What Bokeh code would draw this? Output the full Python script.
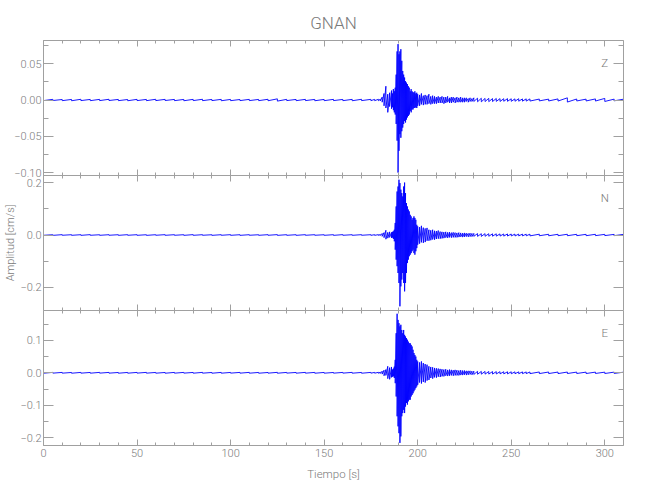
import math
from bokeh.plotting import figure
from bokeh.models import Range1d, LinearAxis, FixedTicker, Label
from bokeh.layouts import column
from bokeh.embed import file_html
from bokeh.resources import INLINE

# ---------------- data ----------------
# sample times [s]
time_s = [0, 5, 10, 15, 20, 25, 30, 35, 40, 45, 50, 55, 60, 65, 70, 75, 80, 85,
          90, 95, 100, 105, 110, 115, 120, 125, 130, 135, 140, 145, 150, 155, 160,
          165, 170, 175,
          177, 179,
          180, 181, 182, 183, 184, 185, 186,
          186.5, 187, 187.5, 188, 188.5, 189, 189.5, 190, 190.5, 191, 191.5, 192,
          192.5, 193, 193.5, 194, 194.5, 195, 195.5, 196, 196.5, 197, 197.5, 198,
          198.5, 199, 199.5, 200,
          201, 202, 203, 204, 205, 206, 207, 208, 209, 210, 211, 212, 213, 214, 215,
          216, 217, 218, 219, 220, 221, 222, 223, 224, 225, 226, 227, 228, 229, 230,
          232, 234, 236, 238, 240, 242, 244, 246, 248, 250, 252, 254, 256, 258, 260,
          265, 270, 275, 280, 285, 290, 295, 300, 305, 310]

# upper / lower envelope of each trace, in units of 0.001 cm/s
z_hi = [0.8, 0.9, 0.7, 0.8, 1.0, 0.8, 0.9, 1.0, 0.8, 0.7, 0.9, 0.8, 1.0, 0.9, 0.8, 0.8, 0.9, 1.0,
        0.8, 0.9, 0.8, 0.7, 0.9, 0.8, 1.0, 1.6, 0.9, 0.8, 0.9, 0.8, 0.8, 0.9, 0.8, 0.9, 1.0, 0.9,
        0.9, 1.0,
        1.2, 4, 9, 19, 8, 10, 13,
        9, 15, 12, 17, 35, 67, 77, 63, 67, 70, 54, 40, 35, 31, 26, 24, 22, 19, 17, 12, 15, 12,
        11, 10, 12, 9, 10, 8,
        7, 9, 6, 7, 6, 8, 5, 6, 5, 4, 5, 4, 5, 4, 4, 5, 3, 4, 4, 3, 4, 3, 4, 3, 3, 3, 2, 3, 2, 3,
        2.5, 2.4, 2.2, 2.3, 2.0, 2.1, 1.9, 1.8, 1.9, 1.7, 1.6, 1.8, 1.5, 1.6, 1.5,
        1.3, 1.2, 1.5, 3.0, 1.4, 1.2, 1.5, 2.2, 1.2, 1.1]
z_lo = [-0.8, -0.7, -0.9, -1.0, -0.8, -0.9, -0.8, -0.7, -0.9, -1.0, -0.8, -0.9, -0.8, -0.7, -0.9,
        -1.0, -0.8, -0.9, -0.8, -1.0, -0.9, -0.8, -0.8, -0.9, -1.0, -1.5, -0.8, -0.9, -0.8, -1.0,
        -0.9, -0.8, -0.9, -1.0, -0.8, -0.9,
        -0.9, -1.0,
        -1.2, -3, -8, -11, -17, -9, -12,
        -10, -14, -17, -20, -33, -56, -100, -70, -47, -52, -43, -38, -33, -29, -31, -27, -24,
        -22, -20, -15, -17, -13, -13, -11, -11, -10, -11, -8,
        -8, -6, -7, -6, -6, -5, -6, -5, -5, -5, -4, -4, -4, -5, -4, -3, -4, -4, -3, -4, -3, -3,
        -3, -3, -3, -2, -3, -2, -2, -2,
        -2.4, -2.5, -2.1, -2.2, -2.1, -1.9, -2.0, -1.7, -1.8, -1.8, -1.7, -1.6, -1.6, -1.5, -1.4,
        -1.2, -1.3, -1.4, -2.8, -1.3, -1.3, -1.4, -2.0, -1.1, -1.2]

n_hi = [1.2, 1.0, 1.3, 1.1, 1.2, 1.4, 1.0, 1.2, 1.1, 1.3, 1.2, 1.0, 1.1, 1.3, 1.2, 1.1, 1.4, 1.2,
        1.0, 1.2, 1.3, 1.1, 1.2, 1.0, 1.3, 1.5, 1.2, 1.1, 1.3, 1.2, 1.0, 1.2, 1.4, 1.1, 1.3, 1.2,
        1.3, 1.5,
        2, 6, 9, 18, 10, 12, 10,
        12, 14, 20, 46, 109, 166, 185, 211, 198, 173, 160, 147, 185, 200, 160, 122, 109, 97,
        90, 77, 71, 58, 65, 71, 65, 58, 39, 33,
        30, 35, 28, 25, 27, 20, 18, 20, 16, 15, 17, 13, 12, 11, 12, 10, 11, 9, 10, 9, 8, 9, 8,
        7, 8, 7, 6, 7, 6, 6,
        5.5, 5.0, 5.2, 4.8, 4.5, 4.6, 4.2, 4.0, 4.1, 3.8, 3.6, 3.7, 3.4, 3.3, 3.2,
        3.0, 2.8, 2.7, 2.8, 2.6, 2.5, 2.6, 2.4, 2.3, 2.3]
n_lo = [-1.1, -1.3, -1.0, -1.2, -1.3, -1.1, -1.2, -1.0, -1.3, -1.1, -1.2, -1.4, -1.0, -1.2, -1.1,
        -1.3, -1.2, -1.0, -1.3, -1.1, -1.2, -1.3, -1.0, -1.2, -1.1, -1.4, -1.2, -1.3, -1.1, -1.0,
        -1.2, -1.3, -1.1, -1.2, -1.0, -1.3,
        -1.3, -1.4,
        -2, -5, -10, -16, -12, -9, -11,
        -10, -15, -24, -56, -94, -119, -145, -183, -272, -196, -170, -145, -183, -215, -183,
        -145, -107, -94, -81, -75, -69, -62, -56, -69, -75, -62, -50, -37,
        -33, -28, -30, -27, -22, -22, -20, -17, -18, -15, -14, -14, -13, -12, -10, -11, -9, -10,
        -9, -9, -9, -8, -7, -8, -7, -6, -7, -6, -6, -5,
        -5.2, -5.4, -4.9, -4.7, -4.6, -4.3, -4.1, -4.2, -3.9, -3.7, -3.8, -3.5, -3.4, -3.2, -3.3,
        -2.9, -2.9, -2.6, -2.7, -2.5, -2.6, -2.4, -2.3, -2.4, -2.2]

e_hi = [1.1, 1.3, 1.2, 1.0, 1.2, 1.1, 1.3, 1.2, 1.0, 1.1, 1.2, 1.3, 1.1, 1.0, 1.2, 1.2, 1.1, 1.3,
        1.0, 1.2, 1.1, 1.2, 1.3, 1.1, 1.0, 1.4, 1.2, 1.1, 1.3, 1.2, 1.1, 1.0, 1.2, 1.3, 1.1, 1.2,
        1.3, 1.5,
        2, 5, 8, 10, 20, 16, 18,
        10, 13, 19, 40, 122, 182, 163, 153, 143, 148, 132, 122, 132, 117, 112, 107, 102, 96,
        91, 91, 86, 81, 71, 61, 55, 50, 40, 35,
        32, 35, 30, 27, 25, 20, 18, 17, 15, 14, 13, 12, 11, 10, 11, 9, 10, 9, 8, 9, 8, 7, 8, 7,
        7, 6, 6, 6, 5, 5,
        4.5, 4.3, 4.2, 4.0, 3.8, 3.7, 3.5, 3.4, 3.2, 3.1, 3.0, 2.9, 2.8, 2.7, 2.6,
        2.5, 2.4, 2.3, 2.3, 2.2, 2.1, 2.1, 2.0, 2.0, 1.9]
e_lo = [-1.2, -1.0, -1.1, -1.3, -1.1, -1.2, -1.0, -1.1, -1.3, -1.2, -1.0, -1.1, -1.2, -1.3, -1.1,
        -1.0, -1.2, -1.1, -1.3, -1.2, -1.0, -1.1, -1.2, -1.3, -1.1, -1.3, -1.0, -1.2, -1.1, -1.3,
        -1.2, -1.1, -1.0, -1.2, -1.3, -1.1,
        -1.2, -1.4,
        -2, -4, -9, -8, -18, -20, -14,
        -12, -11, -16, -32, -73, -134, -165, -186, -216, -196, -134, -124, -114, -124, -104,
        -93, -98, -88, -83, -83, -73, -68, -63, -57, -52, -47, -42, -37,
        -30, -33, -28, -30, -24, -22, -16, -18, -14, -15, -12, -13, -11, -11, -9, -10, -9, -8,
        -9, -8, -8, -8, -7, -7, -6, -7, -6, -5, -6, -5,
        -4.4, -4.2, -4.1, -3.9, -3.9, -3.6, -3.4, -3.3, -3.3, -3.0, -2.9, -2.8, -2.7, -2.6, -2.5,
        -2.4, -2.3, -2.4, -2.2, -2.1, -2.2, -2.0, -2.1, -1.9, -1.9]

unit_scale = 0.001  # envelope lists are in 0.001 cm/s

# axes
x_range_vals = [0, 310]
x_major = [0, 50, 100, 150, 200, 250, 300]
x_minor = [0, 10, 20, 30, 40, 50, 60, 70, 80, 90, 100, 110, 120, 130, 140, 150, 160, 170,
           180, 190, 200, 210, 220, 230, 240, 250, 260, 270, 280, 290, 300, 310]
x_labels = ["0", "50", "100", "150", "200", "250", "300"]

z_range = [-0.104, 0.082]
z_major = [-0.10, -0.05, 0.0, 0.05]
z_minor = [-0.10, -0.075, -0.05, -0.025, 0.0, 0.025, 0.05, 0.075]
z_labels = ["\u22120.10", "\u22120.05", "0.00", "0.05"]

n_range = [-0.288, 0.227]
n_major = [-0.2, 0.0, 0.2]
n_minor = [-0.2, -0.1, 0.0, 0.1, 0.2]
n_labels = ["\u22120.2", "0.0", "0.2"]

e_range = [-0.224, 0.192]
e_major = [-0.2, -0.1, 0.0, 0.1]
e_minor = [-0.2, -0.15, -0.1, -0.05, 0.0, 0.05, 0.1, 0.15]
e_labels = ["\u22120.2", "\u22120.1", "0.0", "0.1"]

components = ["Z", "N", "E"]
title_text = "GNAN"
x_title = "Tiempo [s]"
y_title = "Amplitud [cm/s]"

# ---------------- style ----------------
FONT = "'Roboto Light', Roboto, sans-serif"
TEXT = "#7a7a7a"
AXIS = "#a0a0a0"
TRACE = "#0000ff"
W = 642
LEFT, RIGHT = 43, 19
FRAME_H = 135
OVERLAP = 6

x_range = Range1d(*x_range_vals)


def style_axis(ax, tick_in, minor_in, labels=True, line=True):
    ax.axis_line_color = AXIS if line else None
    ax.major_tick_line_color = AXIS
    ax.minor_tick_line_color = AXIS
    ax.major_tick_in = tick_in
    ax.major_tick_out = 0
    ax.minor_tick_in = minor_in
    ax.minor_tick_out = 0
    ax.major_label_text_font = FONT
    ax.axis_label_text_font = FONT
    ax.axis_label_text_color = TEXT
    ax.axis_label_text_font_style = "normal"
    if labels:
        ax.major_label_text_color = TEXT
        ax.major_label_text_font_size = "11px"
        ax.major_label_standoff = 2
    else:
        ax.major_label_text_color = None
        ax.major_label_text_font_size = "1px"
        ax.major_label_standoff = 0


def panel(rng, major, minor, labels, comp, hi, lo, top_border, bottom_border,
          title=None, bottom_labels=False, ylab=False, bottom_line=False):
    h = top_border + FRAME_H + bottom_border
    p = figure(width=W, height=h, x_range=x_range, y_range=Range1d(rng[0], rng[1]),
               x_axis_type=None, y_axis_type=None,
               output_backend="svg", toolbar_location=None,
               min_border_left=LEFT, min_border_right=RIGHT,
               min_border_top=top_border, min_border_bottom=bottom_border)
    p.outline_line_color = None
    p.background_fill_color = "white"
    p.border_fill_color = None

    left = LinearAxis(ticker=FixedTicker(ticks=major, minor_ticks=minor),
                      major_label_overrides={v: s for v, s in zip(major, labels)})
    style_axis(left, 10, 5, labels=True)
    if ylab:
        left.axis_label = y_title
        left.axis_label_text_font_size = "11px"
        left.axis_label_standoff = 0
    p.add_layout(left, "left")
    right = LinearAxis(ticker=FixedTicker(ticks=major, minor_ticks=minor))
    style_axis(right, 10, 5, labels=False)
    p.add_layout(right, "right")

    top = LinearAxis(ticker=FixedTicker(ticks=x_major, minor_ticks=x_minor))
    style_axis(top, 6, 3, labels=False)
    p.add_layout(top, "above")
    bottom = LinearAxis(ticker=FixedTicker(ticks=x_major, minor_ticks=x_minor),
                        major_label_overrides={v: s for v, s in zip(x_major, x_labels)})
    style_axis(bottom, 6, 3, labels=bottom_labels, line=bottom_line)
    if bottom_labels:
        bottom.axis_label = x_title
        bottom.axis_label_text_font_size = "11.5px"
        bottom.axis_label_standoff = 7
        bottom.major_label_standoff = 3
    p.add_layout(bottom, "below")

    xs, ys = [], []
    for t, a, b in zip(time_s, hi, lo):
        xs += [t, t]
        ys += [a * unit_scale, b * unit_scale]
    p.line(xs, ys, line_color=TRACE, line_width=1, line_alpha=0.9)

    p.add_layout(Label(x=x_major[-1], y=rng[0] + 0.837 * (rng[1] - rng[0]), text=comp,
                       text_font=FONT, text_font_size="11.5px", text_color=TEXT,
                       text_align="center", text_baseline="middle"))
    if title:
        p.title.text = title
        p.title.align = "center"
        p.title.text_font = FONT
        p.title.text_font_size = "17px"
        p.title.text_font_style = "normal"
        p.title.text_color = TEXT
        p.title.standoff = 15
    return p


p1 = panel(z_range, z_major, z_minor, z_labels, components[0], z_hi, z_lo, 40, OVERLAP,
           title=title_text)
p2 = panel(n_range, n_major, n_minor, n_labels, components[1], n_hi, n_lo, 0, 0, ylab=True)
p2.margin = (-OVERLAP, 0, 0, 0)
p3 = panel(e_range, e_major, e_minor, e_labels, components[2], e_hi, e_lo, 0, 45,
           bottom_labels=True, bottom_line=True)

layout = column(p1, p2, p3, spacing=0)
open("out.html", "w").write(file_html(layout, INLINE))
